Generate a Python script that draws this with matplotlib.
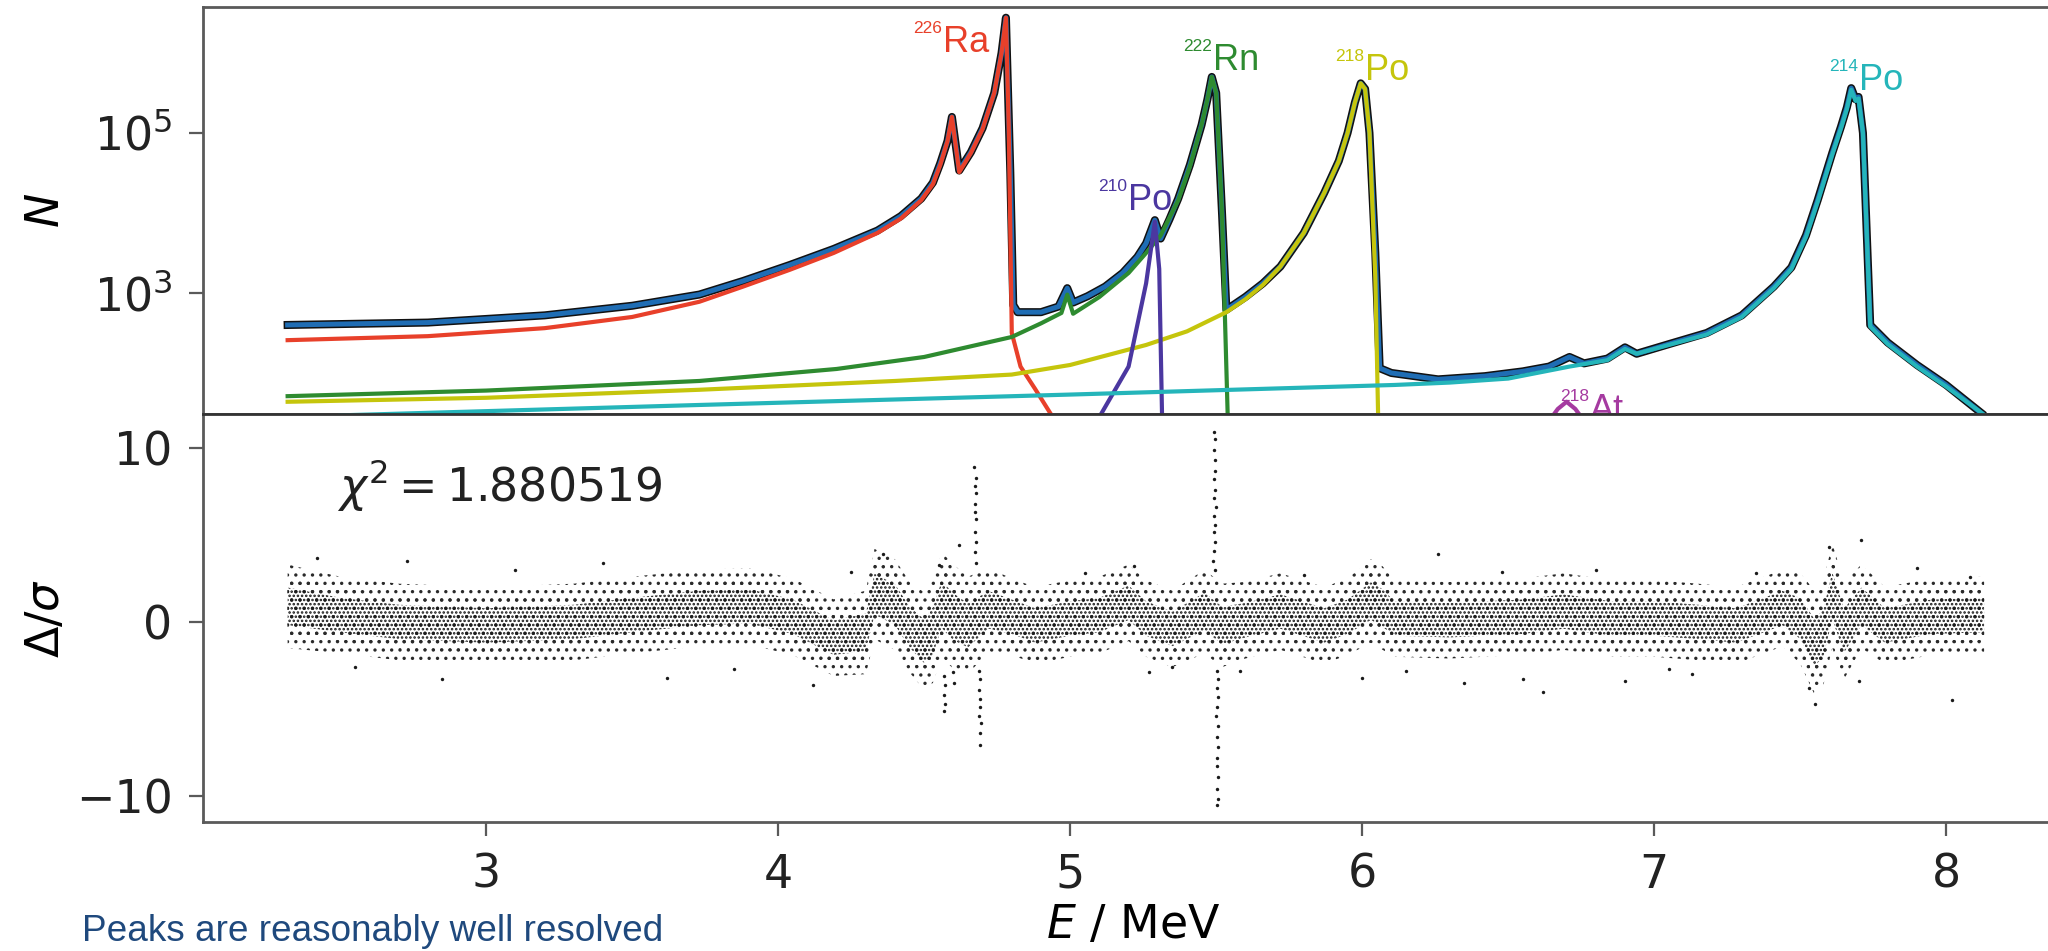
import numpy as np
import matplotlib.pyplot as plt

plt.rcParams["hatch.linewidth"] = 1.2

data_E = [2.32, 2.8, 3.2, 3.5, 3.73, 3.88, 4.04, 4.19, 4.34, 4.42, 4.49, 4.53, 4.555,
          4.58, 4.595, 4.62, 4.66, 4.70, 4.74, 4.765, 4.78, 4.795, 4.805, 4.82, 4.90,
          4.96, 4.99, 5.01, 5.06, 5.12, 5.18, 5.23, 5.26, 5.29, 5.31, 5.34, 5.37, 5.41,
          5.45, 5.47, 5.485, 5.50, 5.52, 5.535, 5.6, 5.66, 5.72, 5.80, 5.87, 5.92, 5.95,
          5.975, 5.995, 6.01, 6.025, 6.045, 6.06, 6.1, 6.26, 6.42, 6.55, 6.64, 6.71, 6.76,
          6.84, 6.90, 6.94, 7.05, 7.18, 7.30, 7.41, 7.47, 7.52, 7.56, 7.61, 7.64, 7.66,
          7.675, 7.69, 7.70, 7.715, 7.74, 7.80, 7.90, 8.00, 8.12]
data_logN = [2.60, 2.63, 2.72, 2.84, 2.98, 3.15, 3.35, 3.55, 3.78, 3.96, 4.18, 4.38,
             4.62, 4.9, 5.2, 4.53, 4.76, 5.06, 5.5, 6.0, 6.44, 4.5, 2.85, 2.76, 2.76,
             2.83, 3.06, 2.88, 2.96, 3.08, 3.25, 3.45, 3.62, 3.91, 3.68, 3.92, 4.18, 4.6,
             5.1, 5.42, 5.7, 5.5, 4.0, 2.79, 2.95, 3.12, 3.33, 3.75, 4.25, 4.65, 5.0,
             5.38, 5.62, 5.55, 5.0, 3.5, 2.06, 2.0, 1.92, 1.96, 2.02, 2.08, 2.2, 2.12,
             2.18, 2.32, 2.24, 2.36, 2.5, 2.72, 3.08, 3.32, 3.72, 4.16, 4.75, 5.08, 5.32,
             5.56, 5.42, 5.45, 5.0, 2.6, 2.38, 2.1, 1.85, 1.5]

# single components
ra226_E = [2.32, 2.8, 3.2, 3.5, 3.73, 3.88, 4.04, 4.19, 4.34, 4.42, 4.49, 4.53, 4.555,
           4.58, 4.595, 4.62, 4.66, 4.70, 4.74, 4.765, 4.78, 4.79, 4.80, 4.83, 4.88, 4.94]
ra226_logN = [2.41, 2.46, 2.56, 2.70, 2.89, 3.08, 3.29, 3.50, 3.75, 3.93, 4.16, 4.36,
              4.6, 4.9, 5.2, 4.51, 4.75, 5.05, 5.5, 6.0, 6.44, 5.0, 2.5, 2.08, 1.8, 1.45]
rn222_E = [2.32, 3.0, 3.73, 4.2, 4.5, 4.80, 4.90, 4.97, 4.99, 5.01, 5.1, 5.2, 5.26, 5.31,
           5.37, 5.41, 5.45, 5.47, 5.485, 5.50, 5.52, 5.54]
rn222_logN = [1.71, 1.78, 1.90, 2.05, 2.2, 2.45, 2.62, 2.75, 2.98, 2.74, 2.95, 3.25, 3.5,
              3.72, 4.16, 4.58, 5.1, 5.42, 5.7, 5.5, 4.0, 1.4]
po218_E = [2.32, 3.0, 3.73, 4.4, 4.80, 5.0, 5.26, 5.4, 5.535, 5.6, 5.66, 5.72, 5.80,
           5.87, 5.92, 5.95, 5.975, 5.995, 6.01, 6.025, 6.045, 6.055]
po218_logN = [1.64, 1.69, 1.79, 1.9, 1.98, 2.1, 2.35, 2.52, 2.76, 2.92, 3.10, 3.33, 3.75,
              4.25, 4.65, 5.0, 5.38, 5.62, 5.55, 5.0, 3.2, 1.4]
po210_E = [5.10, 5.20, 5.26, 5.29, 5.305, 5.315]
po210_logN = [1.45, 2.08, 3.12, 3.89, 3.3, 1.4]
po214_E = [2.50, 3.73, 5.0, 6.11, 6.3, 6.5, 6.71, 6.84, 6.90, 6.94, 7.05, 7.18, 7.30,
           7.41, 7.47, 7.52, 7.56, 7.61, 7.64, 7.66, 7.675, 7.69, 7.70, 7.715, 7.74, 7.80,
           7.90, 8.00, 8.14]
po214_logN = [1.47, 1.60, 1.73, 1.85, 1.88, 1.93, 2.08, 2.16, 2.30, 2.24, 2.35, 2.48,
              2.70, 3.06, 3.30, 3.70, 4.14, 4.73, 5.06, 5.30, 5.54, 5.40, 5.43, 5.0, 2.58,
              2.36, 2.08, 1.83, 1.45]
at218_E = [6.64, 6.67, 6.70, 6.73, 6.76]
at218_logN = [1.40, 1.55, 1.64, 1.55, 1.40]

# residuals: band centre / spread and the stray points
res_E = [2.32, 2.5, 2.7, 3.0, 3.3, 3.5, 3.73, 3.9, 4.05, 4.19, 4.30, 4.33, 4.40, 4.45,
         4.50, 4.53, 4.56, 4.60, 4.65, 4.72, 4.80, 4.88, 5.00, 5.10, 5.20, 5.26, 5.35,
         5.46, 5.52, 5.60, 5.72, 5.87, 5.95, 6.03, 6.07, 6.11, 6.30, 6.42, 6.55, 6.69,
         6.85, 7.00, 7.15, 7.28, 7.44, 7.50, 7.55, 7.58, 7.61, 7.65, 7.71, 7.79, 7.95, 8.13]
res_mid = [0.9, 0.4, 0.0, -0.2, 0.0, 0.4, 0.8, 0.9, 0.3, -0.9, -0.6, 1.6, 1.0, -0.3,
           -1.1, -0.5, 1.0, 0.3, -0.2, 0.7, 0.3, -0.2, 0.2, 0.4, 1.1, 0.2, -0.4, 0.6,
           -0.2, 0.1, 0.6, -0.2, 0.3, 1.2, 0.8, 0.2, 0.1, 0.2, 0.3, 0.6, 0.2, 0.2, 0.0,
           -0.2, 0.8, 0.2, -1.2, -0.6, 1.5, -0.5, 0.9, -0.2, 0.3, 0.4]
res_spread = [1.2, 1.1, 1.1, 1.1, 1.1, 1.1, 1.1, 1.1, 1.1, 1.1,
              1.2, 1.3, 1.3, 1.3, 1.4, 1.5, 1.5, 1.5, 1.4, 1.2,
              1.1, 1.1, 1.1, 1.1, 1.1, 1.1, 1.1, 1.2, 1.2, 1.1,
              1.1, 1.1, 1.1, 1.2, 1.2, 1.1, 1.1, 1.1, 1.1, 1.1,
              1.1, 1.1, 1.1, 1.1, 1.1, 1.3, 1.5, 1.5, 1.5, 1.4,
              1.2, 1.1, 1.1, 1.1]
out_E = ([4.672, 4.676, 4.674, 4.678, 4.675, 4.673, 4.677, 4.675, 4.679, 4.674, 4.676]
         + [4.688, 4.691, 4.689, 4.692, 4.690, 4.688, 4.693, 4.690, 4.691]
         + [4.568, 4.571, 4.567, 4.572, 4.569, 4.598, 4.602]
         + [5.494, 5.496, 5.493, 5.497, 5.495, 5.492, 5.496, 5.494, 5.498, 5.493, 5.495,
            5.491, 5.497, 5.494, 5.490, 5.496]
         + [5.503, 5.506, 5.502, 5.507, 5.504, 5.501, 5.505, 5.503, 5.506, 5.502, 5.504,
            5.507, 5.503, 5.505, 5.502]
         + [2.42, 2.73, 2.85, 3.40, 4.36, 4.62, 4.55, 5.22, 5.27, 5.58, 6.00, 6.26, 6.35,
            6.55, 6.62, 6.90, 7.13, 7.55, 7.53, 7.60, 7.71, 7.70, 8.02, 8.08, 3.62, 4.12,
            2.55, 3.10, 3.85, 4.25, 5.05, 5.35, 5.80, 6.15, 6.48, 6.80, 7.05, 7.35, 7.90])
out_v = ([8.9, 8.3, 7.8, 7.4, 6.8, 6.3, 5.9, 5.2, 4.6, 4.0, 3.4]
         + [-2.8, -3.3, -3.9, -4.4, -4.9, -5.4, -5.8, -6.4, -7.1]
         + [-3.1, -3.6, -4.2, -4.7, -5.1, -2.9, -3.5]
         + [10.9, 10.5, 9.9, 9.3, 8.7, 8.2, 7.6, 7.1, 6.6, 6.1, 5.6, 5.2, 4.6, 4.1, 3.5,
            3.0]
         + [-2.8, -3.3, -3.8, -4.3, -4.9, -5.4, -6.0, -6.6, -7.2, -7.8, -8.3, -8.9, -9.6,
            -10.2, -10.5]
         + [3.7, 3.5, -3.3, 3.4, 3.9, 4.4, 3.3, 3.2, -2.9, -2.8, -3.2, 3.9, -3.5, -3.3,
            -4.0, -3.4, -3.0, -4.7, -3.8, 4.3, 4.7, -3.4, -4.5, 2.6, -3.2, -3.6,
            -2.6, 3.0, -2.7, 2.9, 2.8, -2.6, 2.7, -2.8, 2.9, 3.0, -2.7, 2.8, 3.1])

chi2_text = r"$\chi^2 = 1.880519$"

c_fit = "#1f6db4"
c_ra = "#e8402a"
c_rn = "#2e8b30"
c_po218 = "#c5c50c"
c_po210 = "#4b37a0"
c_po214 = "#25b5ba"
c_at = "#a53aa0"
spine_c = "#5a5a5a"

fig = plt.figure(figsize=(20.48, 9.51), dpi=100)
ax1 = fig.add_axes([0.0991, 0.5647, 0.9082, 0.428])
ax2 = fig.add_axes([0.0991, 0.1356, 0.9082, 0.429])

# --- spectrum
ax1.plot(data_E, np.power(10.0, data_logN), color="#111111", lw=5.8, zorder=2)
ax1.plot(data_E, np.power(10.0, data_logN), color=c_fit, lw=3.6, zorder=3)
for E, logN, col in [(ra226_E, ra226_logN, c_ra), (rn222_E, rn222_logN, c_rn),
                     (po218_E, po218_logN, c_po218), (po210_E, po210_logN, c_po210),
                     (po214_E, po214_logN, c_po214), (at218_E, at218_logN, c_at)]:
    ax1.plot(E, np.power(10.0, logN), color=col, lw=3.0, zorder=4)

ax1.set_yscale("log")
ax1.set_xlim(2.03, 8.40)
ax1.set_ylim(10 ** 1.4875, 10 ** 6.575)
ax1.set_yticks([1e3, 1e5])
ax1.yaxis.set_minor_locator(plt.NullLocator())
ax1.set_ylabel("$N$", fontsize=33)


def nuclide(x, logN, mass, name, col, clip=False):
    y = 10 ** logN
    ax1.text(x, y, name, color=col, fontsize=26, family="Liberation Sans",
             ha="left", va="baseline", clip_on=clip, zorder=5)
    ax1.annotate(mass, (x, y), xytext=(-0.5, 13.5), textcoords="offset points",
                 color=col, fontsize=12.5, family="Liberation Sans", ha="right",
                 va="baseline", annotation_clip=False, zorder=5)


nuclide(4.564, 6.01, "226", "Ra", c_ra)
nuclide(5.488, 5.79, "222", "Rn", c_rn)
nuclide(6.008, 5.66, "218", "Po", c_po218)
nuclide(5.197, 4.04, "210", "Po", c_po210)
nuclide(7.700, 5.54, "214", "Po", c_po214)
nuclide(6.780, 1.41, "218", "At", c_at, clip=True)

# --- residuals
mid = np.array(res_mid)
spr = np.array(res_spread)
ax2.fill_between(res_E, mid - 2.0 * spr, mid + 2.0 * spr, facecolor="none",
                 edgecolor="#2a2a2a", hatch="..", linewidth=0)
ax2.fill_between(res_E, mid - 1.4 * spr, mid + 1.4 * spr, facecolor="none",
                 edgecolor="#2a2a2a", hatch="..", linewidth=0)
ax2.fill_between(res_E, mid - 0.9 * spr, mid + 0.9 * spr, facecolor="none",
                 edgecolor="#1a1a1a", hatch="....", linewidth=0)
ax2.scatter(out_E, out_v, s=6, color="#1a1a1a", linewidths=0)
ax2.text(2.49, 7.9, chi2_text, fontsize=33, va="center", ha="left", color="#222222")

ax2.set_xlim(2.03, 8.40)
ax2.set_ylim(-11.5, 11.95)
ax2.set_yticks([-10, 0, 10])
ax2.set_xticks([3, 4, 5, 6, 7, 8])
ax1.set_xticks([3, 4, 5, 6, 7, 8])
ax2.set_ylabel(r"$\Delta/\sigma$", fontsize=33)
ax2.set_xlabel("$E$ / MeV", fontsize=33, labelpad=4)

for ax in (ax1, ax2):
    ax.spines["right"].set_visible(False)
    for s in ("left", "bottom", "top"):
        ax.spines[s].set_color(spine_c)
        ax.spines[s].set_linewidth(2)
    ax.tick_params(direction="out", length=10, width=1.6, color=spine_c,
                   labelsize=33, pad=12, labelcolor="#222222")
    ax.yaxis.set_label_coords(-0.072, 0.5)
ax1.tick_params(axis="x", labelbottom=False)
ax2.spines["top"].set_color("#333333")

# caption from the slide, along the lower edge
fig.text(0.040, 0.011, "Peaks are reasonably well resolved", fontsize=26.6,
         family="Liberation Sans", color="#1f497d", ha="left", va="baseline")

fig.savefig("out.png", dpi=100)
